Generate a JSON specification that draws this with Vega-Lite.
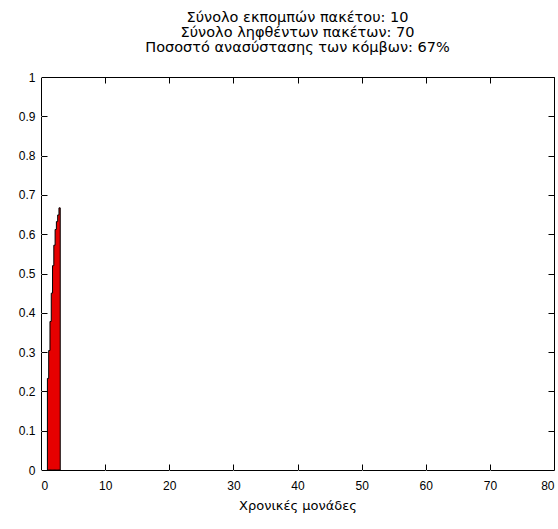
{
  "$schema": "https://vega.github.io/schema/vega-lite/v6.json",
  "width": 513,
  "height": 393,
  "autosize": {"type": "none"},
  "padding": {"left": 41, "top": 77, "right": 4, "bottom": 59},
  "background": "white",
  "config": {
    "font": "Liberation Sans",
    "view": {"stroke": "black", "strokeWidth": 1},
    "axis": {"grid": false, "labelFont": "Liberation Sans", "titleFont": "DejaVu Sans", "labelFontSize": 12, "titleFontSize": 13, "titleFontWeight": "normal", "labelColor": "black", "titleColor": "black", "domainColor": "black", "domain": false}
  },
  "title": {
    "text": ["Σύνολο εκπομπών πακέτου: 10", "Σύνολο ληφθέντων πακέτων: 70", "Ποσοστό ανασύστασης των κόμβων: 67%"],
    "fontSize": 14.5,
    "fontWeight": "normal",
    "font": "DejaVu Sans",
    "lineHeight": 15,
    "anchor": "middle",
    "offset": 16,
    "color": "black"
  },
  "data": {
    "values": [
      {"t": 1.0, "p": 0.233},
      {"t": 1.2, "p": 0.304},
      {"t": 1.4, "p": 0.378},
      {"t": 1.6, "p": 0.45},
      {"t": 1.8, "p": 0.52},
      {"t": 2.0, "p": 0.572},
      {"t": 2.2, "p": 0.612},
      {"t": 2.4, "p": 0.632},
      {"t": 2.6, "p": 0.649},
      {"t": 2.8, "p": 0.667},
      {"t": 3.0, "p": 0.667}
    ]
  },
  "layer": [
    {
      "mark": {"type": "point", "opacity": 0},
      "encoding": {
        "x": {"field": "t", "type": "quantitative", "scale": {"domain": [0, 80], "nice": false}, "axis": {"orient": "top", "offset": -393, "values": [0, 10, 20, 30, 40, 50, 60, 70, 80], "labels": false, "title": null, "tickSize": 6, "tickColor": "black"}},
        "y": {"field": "p", "type": "quantitative", "scale": {"domain": [0, 1], "nice": false}, "axis": {"orient": "right", "offset": -513, "values": [0, 0.1, 0.2, 0.3, 0.4, 0.5, 0.6, 0.7, 0.8, 0.9, 1], "labels": false, "title": null, "tickSize": 6, "tickColor": "black"}}
      }
    },
    {
      "mark": {"type": "point", "opacity": 0},
      "encoding": {
        "x": {"field": "t", "type": "quantitative", "scale": {"domain": [0, 80], "nice": false}, "axis": {"orient": "bottom", "offset": -393, "values": [0, 10, 20, 30, 40, 50, 60, 70, 80], "labels": false, "title": null, "tickSize": 6, "tickColor": "black"}},
        "y": {"field": "p", "type": "quantitative", "scale": {"domain": [0, 1], "nice": false}, "axis": {"orient": "left", "offset": -513, "values": [0, 0.1, 0.2, 0.3, 0.4, 0.5, 0.6, 0.7, 0.8, 0.9, 1], "labels": false, "title": null, "tickSize": 6, "tickColor": "black"}}
      }
    },
    {
      "mark": {"type": "area", "interpolate": "step-after", "color": "#e60000", "stroke": "black", "strokeWidth": 1, "opacity": 1},
      "encoding": {
        "x": {"field": "t", "type": "quantitative", "scale": {"domain": [0, 80], "nice": false}, "axis": {"orient": "bottom", "values": [0, 10, 20, 30, 40, 50, 60, 70, 80], "format": "d", "title": "Χρονικές μονάδες", "titlePadding": 8, "tickSize": 6, "tickColor": "white", "labelPadding": 4}},
        "y": {"field": "p", "type": "quantitative", "scale": {"domain": [0, 1], "nice": false}, "axis": {"orient": "left", "values": [0, 0.1, 0.2, 0.3, 0.4, 0.5, 0.6, 0.7, 0.8, 0.9, 1], "format": "~r", "title": null, "tickSize": 6, "tickColor": "white", "labelPadding": 0}}
      }
    }
  ],
  "resolve": {"axis": {"x": "independent", "y": "independent"}}
}
